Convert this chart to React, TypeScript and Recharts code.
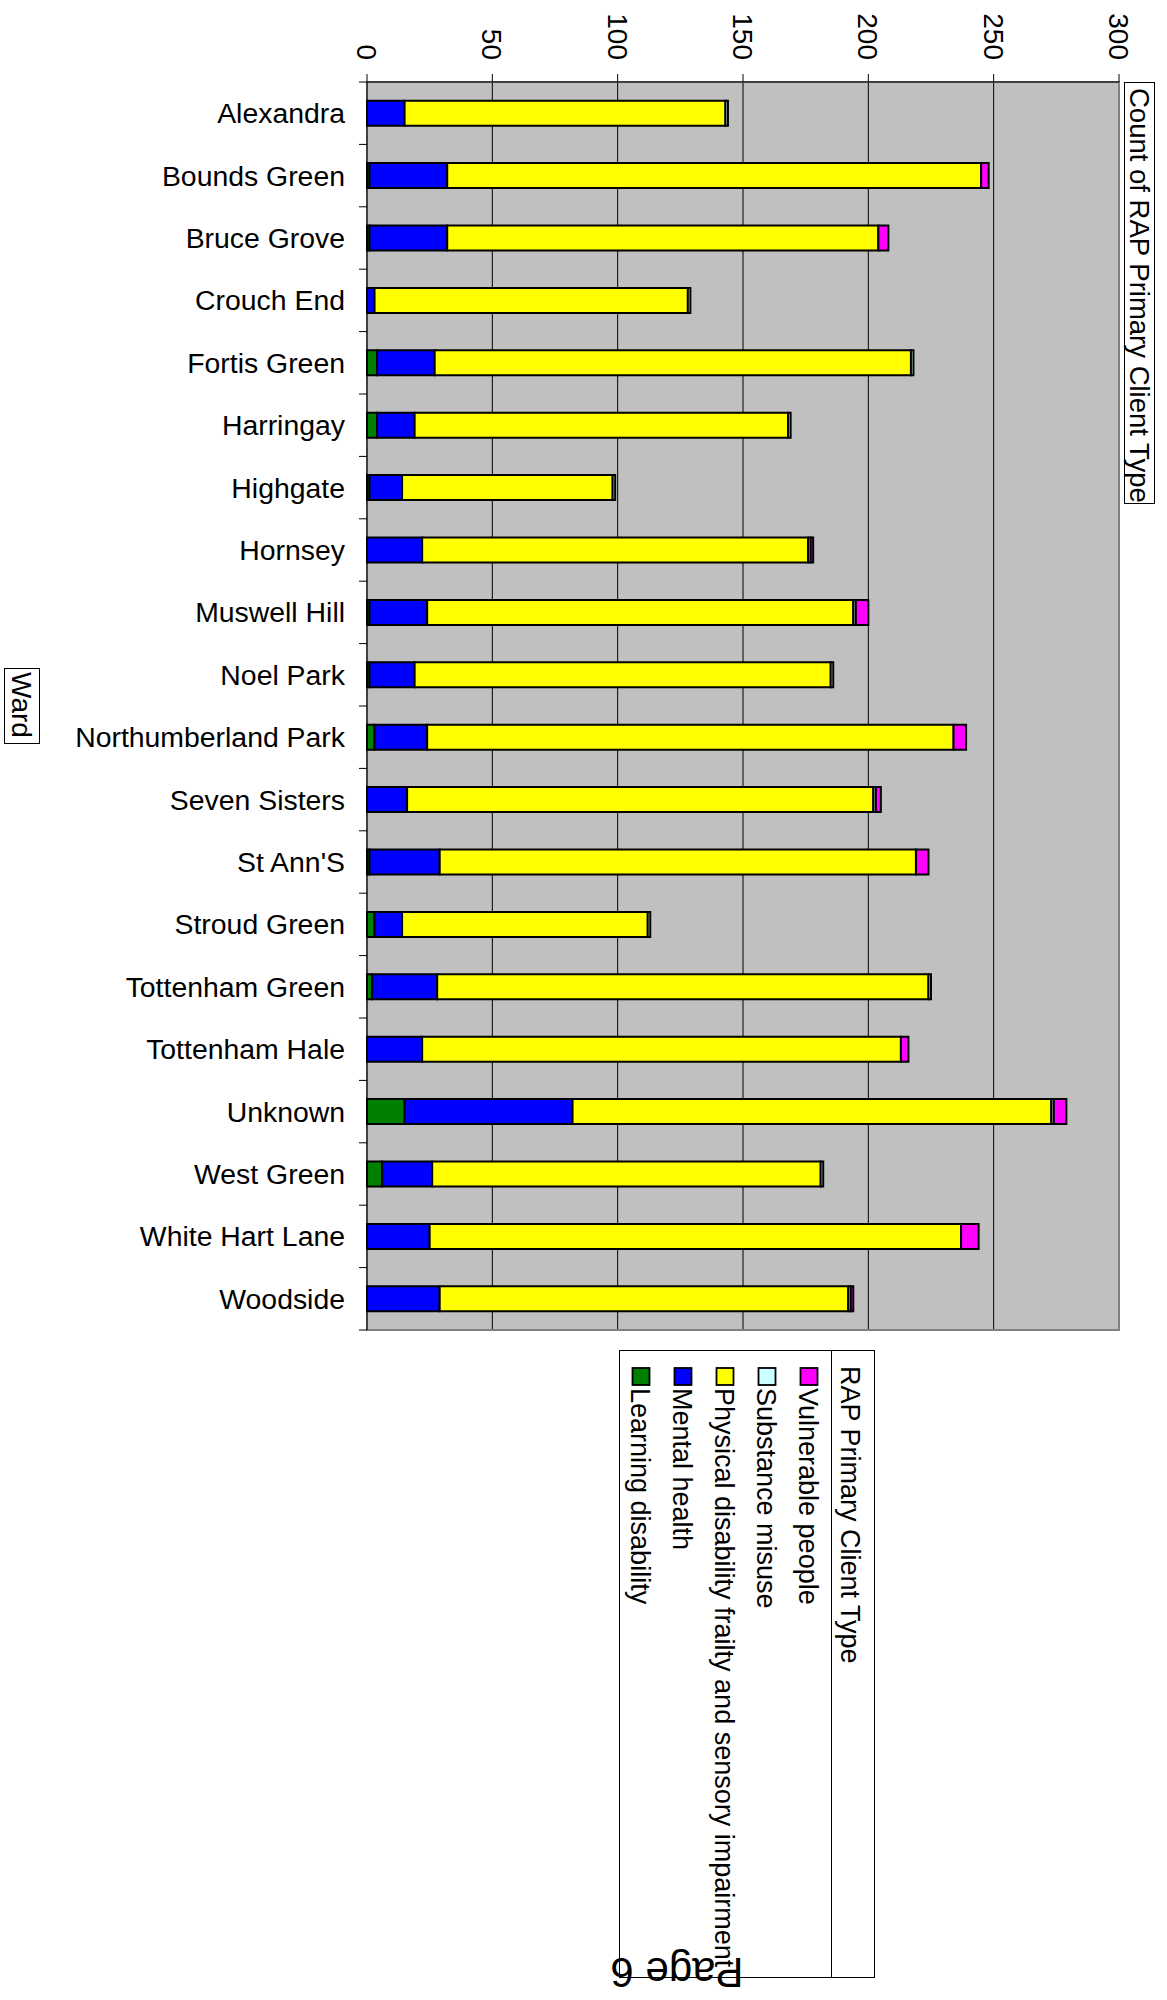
import React from 'react'
import { BarChart, Bar, XAxis, YAxis, CartesianGrid, ReferenceArea } from 'recharts'

// Ward names, top to bottom
const wards = [
  'Alexandra', 'Bounds Green', 'Bruce Grove', 'Crouch End', 'Fortis Green',
  'Harringay', 'Highgate', 'Hornsey', 'Muswell Hill', 'Noel Park',
  'Northumberland Park', 'Seven Sisters', "St Ann'S", 'Stroud Green', 'Tottenham Green',
  'Tottenham Hale', 'Unknown', 'West Green', 'White Hart Lane', 'Woodside',
]

// Counts per client type, one entry per ward
const learningDisability = [0, 1, 1, 0, 4, 4, 1, 0, 1, 1, 3, 0, 1, 3, 2, 0, 15, 6, 0, 0]
const mentalHealth = [15, 31, 31, 3, 23, 15, 13, 22, 23, 18, 21, 16, 28, 11, 26, 22, 67, 20, 25, 29]
const physicalDisability = [128, 213, 172, 125, 190, 149, 84, 154, 170, 166, 210, 186, 190, 98, 196, 191, 191, 155, 212, 163]
const substanceMisuse = [1, 0, 0, 1, 1, 1, 1, 1, 1, 1, 0, 1, 0, 1, 1, 0, 1, 1, 0, 1]
const vulnerablePeople = [0, 3, 4, 0, 0, 0, 0, 1, 5, 0, 5, 2, 5, 0, 0, 3, 5, 0, 7, 1]

const valueTicks = [0, 50, 100, 150, 200, 250, 300]
const gridValues = [50, 100, 150, 200, 250]

const FONT = '"Liberation Sans", Arial, Helvetica, sans-serif'

// stacking order, first one sits against the axis
const series = [
  { key: 'learning', name: 'Learning disability', color: '#008000' },
  { key: 'mental', name: 'Mental health', color: '#0000FF' },
  { key: 'physical', name: 'Physical disability frailty and sensory impairment', color: '#FFFF00' },
  { key: 'substance', name: 'Substance misuse', color: '#CCFFFF' },
  { key: 'vulnerable', name: 'Vulnerable people', color: '#FF00FF' },
]

const chartData = wards.map((ward, i) => ({
  ward,
  learning: learningDisability[i],
  mental: mentalHealth[i],
  physical: physicalDisability[i],
  substance: substanceMisuse[i],
  vulnerable: vulnerablePeople[i],
}))

const CHART_W = 1167
const CHART_H = 1340
const MARGIN = { top: 12, left: 7, right: 48, bottom: 10 }
const X_AXIS_H = 70
const Y_AXIS_W = 360
const PLOT_H = CHART_H - MARGIN.top - MARGIN.bottom - X_AXIS_H
const BAND = PLOT_H / wards.length

function ValueTick({ x, y, payload }: any) {
  return (
    <text
      transform={`translate(${x - 10}, ${y}) rotate(90)`}
      textAnchor="end"
      fontSize={28}
      fontFamily={FONT}
      fill="#000"
    >
      {payload.value}
    </text>
  )
}

function WardTick({ x, y, payload, index }: any) {
  const axisX = x + 8 + 14
  return (
    <g>
      <text x={x} y={y + 10} textAnchor="end" fontSize={28.4} fontFamily={FONT} fill="#000">
        {payload.value}
      </text>
      <line x1={axisX - 8} x2={axisX} y1={y + BAND / 2} y2={y + BAND / 2} stroke="#000" />
      {index === 0 && (
        <line x1={axisX - 8} x2={axisX} y1={y - BAND / 2} y2={y - BAND / 2} stroke="#000" />
      )}
    </g>
  )
}

// rotated legend box below the plot
function ClientTypeLegend() {
  const left = 619.5
  const right = 874.5
  const top = 1350.5
  const bottom = 1977.5
  const divider = 831.5
  const items = [...series].reverse()
  return (
    <g fontFamily={FONT} fill="#000">
      <rect x={left} y={top} width={right - left} height={bottom - top} fill="none" stroke="#000" />
      <line x1={divider} x2={divider} y1={top} y2={bottom} stroke="#000" />
      <text transform={`translate(${851 - 10}, 1366) rotate(90)`} fontSize={27}>
        RAP Primary Client Type
      </text>
      {items.map((s, i) => {
        const cx = 809 - i * 42
        return (
          <g key={s.key}>
            <rect x={cx - 8.5} y={1368} width={17} height={17} fill={s.color} stroke="#000" strokeWidth={1.8} />
            <text transform={`translate(${cx - 10}, 1388) rotate(90)`} fontSize={27}>
              {s.name}
            </text>
          </g>
        )
      })}
    </g>
  )
}

export default function App() {
  return (
    <div style={{ position: 'absolute', left: 0, top: 0, width: 1167, height: 2000, background: '#fff' }}>
      <div style={{ position: 'absolute', left: 0, top: 0 }}>
        <BarChart
          width={CHART_W}
          height={CHART_H}
          data={chartData}
          layout="vertical"
          margin={MARGIN}
          barCategoryGap="30%"
        >
          <CartesianGrid
            horizontal={false}
            vertical
            verticalValues={gridValues}
            stroke="#000"
            fill="#C0C0C0"
            fillOpacity={1}
          />
          <ReferenceArea x1={0} x2={300} fill="none" stroke="#808080" strokeWidth={2} />
          <XAxis
            type="number"
            orientation="top"
            domain={[0, 300]}
            ticks={valueTicks}
            interval={0}
            height={X_AXIS_H}
            tickSize={8}
            tickMargin={14}
            axisLine={{ stroke: '#000' }}
            tickLine={{ stroke: '#000' }}
            tick={<ValueTick />}
          />
          <YAxis
            type="category"
            dataKey="ward"
            width={Y_AXIS_W}
            interval={0}
            tickSize={8}
            tickMargin={14}
            tickLine={false}
            axisLine={{ stroke: '#000' }}
            tick={<WardTick />}
          />
          {series.map((s) => (
            <Bar
              key={s.key}
              dataKey={s.key}
              name={s.name}
              stackId="clients"
              fill={s.color}
              stroke="#000"
              strokeWidth={2}
              isAnimationActive={false}
            />
          ))}
        </BarChart>
      </div>
      <svg
        width={1167}
        height={2000}
        style={{ position: 'absolute', left: 0, top: 0, pointerEvents: 'none' }}
      >
        {/* value axis title */}
        <rect x={1124.5} y={82.5} width={30} height={421} fill="#fff" stroke="#000" />
        <text transform={`translate(${1140 - 10}, 88) rotate(90)`} fontSize={27.5} fontFamily={FONT} fill="#000">
          Count of RAP Primary Client Type
        </text>
        {/* category axis title */}
        <rect x={4.5} y={668.5} width={35} height={75} fill="#fff" stroke="#000" />
        <text transform={`translate(${22 - 10}, 672) rotate(90)`} fontSize={28} fontFamily={FONT} fill="#000">
          Ward
        </text>
        <ClientTypeLegend />
        <text
          transform="translate(677, 1977) rotate(180)"
          y={19}
          textAnchor="middle"
          fontSize={42}
          fontFamily={FONT}
          fill="#000"
        >
          Page 6
        </text>
      </svg>
    </div>
  )
}
